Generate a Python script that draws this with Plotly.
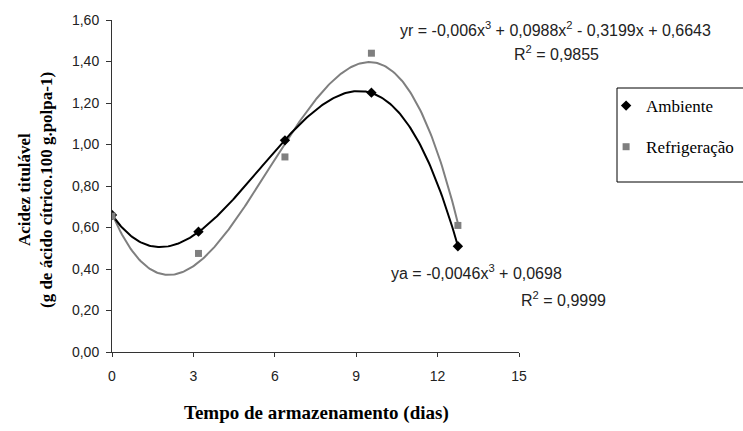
import numpy as np
import plotly.graph_objects as go

# ---- data ----
dias = [0, 3, 6, 9, 12]
ambiente = [0.66, 0.58, 1.02, 1.25, 0.51]
refrigeracao = [0.655, 0.475, 0.94, 1.44, 0.61]
x_tick_labels = [0, 3, 6, 9, 12, 15]
y_tick_values = [0.0, 0.2, 0.4, 0.6, 0.8, 1.0, 1.2, 1.4, 1.6]

eq_r = "yr = -0,006x<sup>3</sup> + 0,0988x<sup>2</sup> - 0,3199x + 0,6643"
r2_r = "R<sup>2</sup> = 0,9855"
eq_a = "ya = -0,0046x<sup>3</sup> + 0,0698"
r2_a = "R<sup>2</sup> = 0,9999"

# cubic trend lines (as in the original spreadsheet chart)
coef_a = np.polyfit(dias, ambiente, 3)
coef_r = np.polyfit(dias, refrigeracao, 3)
xs = np.linspace(0, 12, 241)

GRAY = "#7f7f7f"
SERIF = "Liberation Serif"
SANS = "Liberation Sans"
TXT = "#222"


def px(xp):
    return (xp - 112) / 407


def py(yp):
    return (352 - yp) / 332


fig = go.Figure()
fig.add_trace(go.Scatter(x=xs, y=np.polyval(coef_r, xs), mode="lines",
                         line=dict(color=GRAY, width=2), showlegend=False,
                         hoverinfo="skip"))
fig.add_trace(go.Scatter(x=xs, y=np.polyval(coef_a, xs), mode="lines",
                         line=dict(color="black", width=2), showlegend=False,
                         hoverinfo="skip"))
fig.add_trace(go.Scatter(x=dias, y=ambiente, mode="markers", name="Ambiente",
                         legendgroup="a",
                         marker=dict(symbol="diamond", size=8, color="black")))
fig.add_trace(go.Scatter(x=dias, y=refrigeracao, mode="markers", name="Refrigeração",
                         legendgroup="r",
                         marker=dict(symbol="square", size=7, color=GRAY)))
# carrier for the displayed day axis
fig.add_trace(go.Scatter(x=[x_tick_labels[0], x_tick_labels[-1]], y=[None, None],
                         xaxis="x2", mode="lines", showlegend=False, hoverinfo="skip"))

annotations = [
    dict(text=eq_r, x=px(555), y=py(29), xanchor="center"),
    dict(text=r2_r, x=px(556), y=py(53), xanchor="center"),
    dict(text=eq_a, x=px(389), y=py(272), xanchor="left"),
    dict(text=r2_a, x=px(519), y=py(299), xanchor="left"),
]
for a in annotations:
    a.update(xref="paper", yref="paper", showarrow=False, yanchor="middle",
             font=dict(family=SANS, size=16, color=TXT))

annotations += [
    dict(text="<b>Tempo de armazenamento (dias)</b>", xref="paper", yref="paper",
         x=px(316), y=py(413), showarrow=False, xanchor="center", yanchor="middle",
         font=dict(family=SERIF, size=19, color="black")),
    dict(text="<b>Acidez titulável</b>", xref="paper", yref="paper",
         x=px(25), y=py(190), textangle=-90, showarrow=False,
         xanchor="center", yanchor="middle",
         font=dict(family=SERIF, size=17, color="black")),
    dict(text="<b>(g de ácido cítrico.100 g.polpa-1)</b>", xref="paper", yref="paper",
         x=px(47), y=py(190), textangle=-90, showarrow=False,
         xanchor="center", yanchor="middle",
         font=dict(family=SERIF, size=17, color="black")),
]

fig.update_layout(
    width=743, height=431,
    margin=dict(l=112, r=224, t=20, b=79, autoexpand=False),
    paper_bgcolor="white", plot_bgcolor="white",
    separators=",.",
    font=dict(family=SANS, size=14, color=TXT),
    xaxis=dict(range=[0, 14.12], visible=False, showgrid=False, zeroline=False),
    xaxis2=dict(overlaying="x", anchor="y", side="bottom", range=[0, 15],
                tickvals=x_tick_labels, ticktext=[str(v) for v in x_tick_labels],
                showline=True, linecolor="#333", linewidth=1,
                ticks="outside", ticklen=4, tickcolor="#333",
                showgrid=False, zeroline=False, ticklabelstandoff=7,
                tickfont=dict(family=SANS, size=14, color=TXT)),
    yaxis=dict(range=[0, 1.6], tickvals=y_tick_values, tickformat=".2f",
               showline=True, linecolor="#333", linewidth=1,
               ticks="outside", ticklen=5, tickcolor="#333",
               showgrid=False, zeroline=False, ticklabelstandoff=4,
               tickfont=dict(family=SANS, size=14, color=TXT)),
    legend=dict(x=1.214, y=0.795, xanchor="left", yanchor="top",
                bgcolor="rgba(0,0,0,0)", borderwidth=0,
                traceorder="grouped", tracegroupgap=16,
                font=dict(family=SERIF, size=17, color="black")),
    shapes=[dict(type="rect", xref="paper", yref="paper",
                 x0=px(617), x1=1.7, y0=py(182), y1=py(88),
                 line=dict(color="black", width=1), fillcolor="rgba(0,0,0,0)")],
    annotations=annotations,
)

fig.write_html("out.html")
